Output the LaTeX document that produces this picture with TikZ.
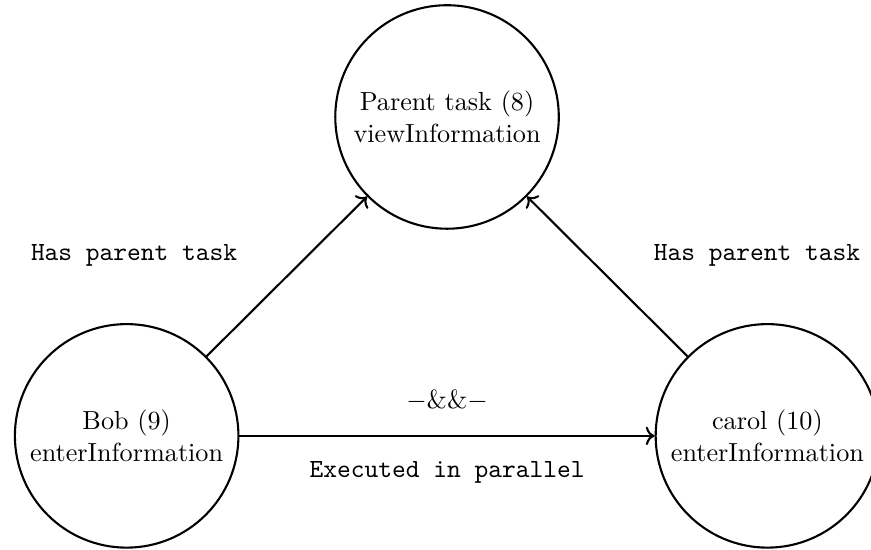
\documentclass[tikz,border=0pt]{standalone}
\usepackage{amsmath,amssymb}
\usepackage{tikz}
\usetikzlibrary{arrows.meta,positioning}

\begin{document}
\begin{tikzpicture}[
  task/.style={circle, draw, thick, minimum size=3cm, align=center, inner sep=1pt},
  rel/.style={font=\ttfamily},
  link/.style={->, thick}]
\useasboundingbox (-6.0,1.57) rectangle (5.69,-5.80);
\node[task] (parent) at (0,0) {Parent task (8)\\viewInformation};
\node[task] (bob) at (-4.3,-4.28) {Bob (9)\\enterInformation};
\node[task] (carol) at (4.3,-4.28) {carol (10)\\enterInformation};
\draw[link] (bob) -- (parent);
\draw[link] (carol) -- (parent);
\draw[link] (bob) -- (carol)
  node[midway, above=6pt] (andand) {$-\&\&-$}
  node[midway, below=6pt, rel] (parallel) {Executed in parallel};
\node[rel] (hasleft) at (-4.2,-1.86) {Has parent task};
\node[rel] (hasright) at (4.16,-1.86) {Has parent task};
\end{tikzpicture}
\end{document}
